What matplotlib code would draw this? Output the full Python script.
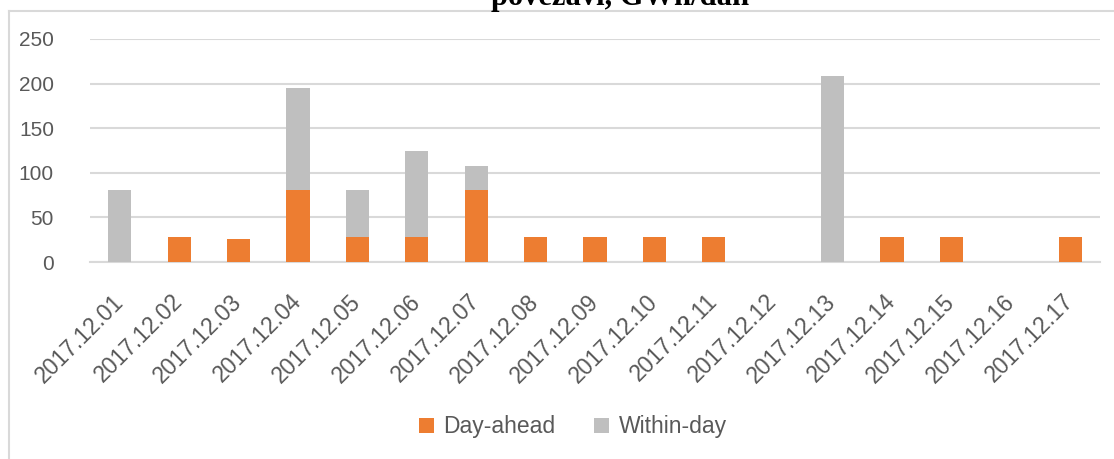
import matplotlib
matplotlib.use("Agg")
import matplotlib.pyplot as plt
from matplotlib.lines import Line2D
import numpy as np

dates = ["2017.12.01", "2017.12.02", "2017.12.03", "2017.12.04", "2017.12.05",
         "2017.12.06", "2017.12.07", "2017.12.08", "2017.12.09", "2017.12.10",
         "2017.12.11", "2017.12.12", "2017.12.13", "2017.12.14", "2017.12.15",
         "2017.12.16", "2017.12.17"]
day_ahead = [0, 28, 25.5, 81, 28, 28, 81, 28, 28, 28, 28, 0, 0, 28, 28, 0, 28]
within_day = [81, 0, 0, 114, 53, 96, 27, 0, 0, 0, 0, 0, 209, 0, 0, 0, 0]

ORANGE = "#ED7D31"
GREY = "#BFBFBF"
TXT = "#595959"
GRID = "#D9D9D9"

plt.rcParams['font.family'] = ['Liberation Sans', 'DejaVu Sans']

fig = plt.figure(figsize=(11.14, 4.59), dpi=100)
ax = fig.add_axes([90/1114, 1-262/459, 1010/1114, 223/459])

x = np.arange(len(dates))
ax.bar(x, day_ahead, width=0.39, color=ORANGE, label="Day-ahead", zorder=3)
ax.bar(x, within_day, width=0.39, bottom=day_ahead, color=GREY, label="Within-day", zorder=3)

ax.set_xlim(-0.5, len(dates) - 0.5)
ax.set_ylim(0, 250)
ax.set_yticks([0, 50, 100, 150, 200, 250])
ax.yaxis.grid(True, color=GRID, linewidth=1.5, zorder=0)
for s in ["top", "right", "left"]:
    ax.spines[s].set_visible(False)
ax.spines["bottom"].set_color(GRID)
ax.spines["bottom"].set_linewidth(1.5)
ax.tick_params(axis="y", length=0, pad=26, labelsize=15, labelcolor=TXT)
ax.tick_params(axis="x", length=0, pad=26, labelsize=16.5, labelcolor=TXT)
ax.set_xticks(x)
ax.set_xticklabels(dates, rotation=45, ha="right", va="center", rotation_mode="anchor")

leg = fig.legend(loc="center", bbox_to_anchor=(573/1114, 1-427/459), ncol=2, frameon=False,
                 fontsize=16.5, labelcolor=TXT, handlelength=0.65, handleheight=0.65,
                 handletextpad=0.4, columnspacing=1.7)

# chart border (cropped at right and bottom)
fig.add_artist(Line2D([8.5/1114, 8.5/1114], [0, 1-11/459], color=GRID, linewidth=1.5))
fig.add_artist(Line2D([8.5/1114, 1], [1-11/459, 1-11/459], color=GRID, linewidth=1.5))

# title is cropped at the top edge like in the source image
fig.text(620/1114, 1-5/459, "povezavi, GWh/dan", ha="center", va="baseline",
         fontsize=22, fontweight="bold", family="Liberation Serif", color="black")

fig.savefig("out.png", dpi=100, facecolor="white")
